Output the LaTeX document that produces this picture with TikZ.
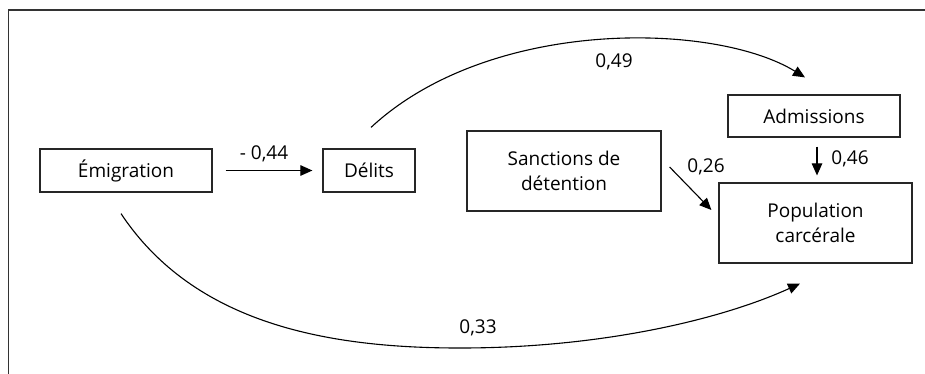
\documentclass[tikz,border=0pt]{standalone}
\usepackage{fontspec}
\setmainfont{Open Sans}
\usetikzlibrary{arrows.meta}
\begin{document}
\begin{tikzpicture}[x=1pt,y=-1pt,
  box/.style={draw=black!85,line width=1.2pt,inner sep=0pt,minimum height=#1},
  box/.default=43pt,
  lbl/.style={inner sep=0pt,anchor=center},
  conn/.style={line width=1.1pt,-{Triangle[length=12pt,width=10.5pt]}},
  every node/.style={font=\fontsize{19}{24.5}\selectfont}]
\useasboundingbox (0,0) rectangle (925,373);
\fill[white] (0,0) rectangle (925,373);
\draw[black!80,line width=1.4pt] (8.5,380) -- (8.5,10) -- (930,10);
% nodes
\node[box,minimum width=172pt] (emig) at (126,170.5) {Émigration};
\node[box,minimum width=92pt] (del) at (369,170.5) {Délits};
\node[box=80pt,minimum width=194pt,align=center] (sanc) at (564,171) {Sanctions de\\détention};
\node[box=42pt,minimum width=172pt] (adm) at (814,116) {Admissions};
\node[box=80pt,minimum width=193pt,align=center] (pop) at (815.5,223) {Population\\carcérale};
% anchor points for curved connectors
\coordinate (d1) at ([xshift=2pt,yshift=21pt]del.north);
\coordinate (a1) at ([xshift=-9pt,yshift=17pt]adm.north);
\coordinate (e1) at ([xshift=-5pt,yshift=-21pt]emig.south);
\coordinate (p1) at ([xshift=-15.5pt,yshift=-20pt]pop.south);
\coordinate (s1) at ([xshift=8pt,yshift=4pt]sanc.east);
\coordinate (p2) at ([xshift=-7pt,yshift=13pt]pop.west);
% connectors
\draw[conn,shorten <=13pt,shorten >=10pt] (emig.east) -- (del.west);
\draw[conn] (d1) .. controls (490,17) and (715,22) .. (a1);
\draw[conn] (e1) .. controls (195,325) and (330,348) .. (460,348)
   .. controls (600,348) and (720,320) .. (p1);
\draw[conn] (s1) -- (p2);
\draw[conn,shorten <=9pt,shorten >=7pt] ([xshift=3pt]adm.south) -- ([xshift=1.5pt]pop.north);
% labels
\node[lbl] (l1) at (264,154) {- 0,44};
\node[lbl] (l2) at (614,62) {0,49};
\node[lbl] (l3) at (706,167) {0,26};
\node[lbl] (l4) at (850,159) {0,46};
\node[lbl] (l5) at (478,328) {0,33};
\end{tikzpicture}
\end{document}
